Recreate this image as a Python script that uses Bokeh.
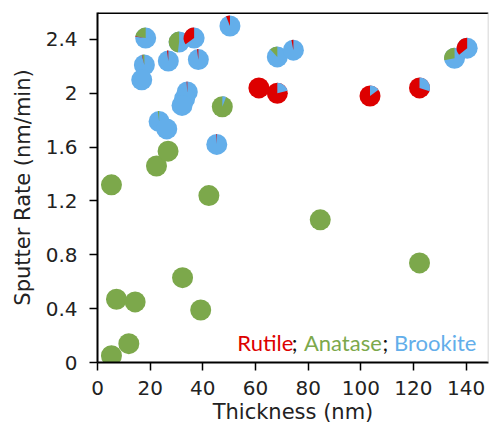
import numpy as np
from bokeh.plotting import figure
from bokeh.models import ColumnDataSource, Span, Label, FixedTicker, Range1d
from bokeh.embed import file_html
from bokeh.resources import INLINE

# ---- data ----
thickness = [5.3, 7.2, 11.9, 14.3, 5.3, 22.4, 26.8, 32.3, 39.2, 42.3, 84.6, 122.3,
             18.3, 31.0, 36.7, 50.3, 17.8, 16.8, 26.9, 38.3,
             34.1, 33.1, 32.1, 23.4, 26.3, 47.4, 45.3,
             61.3, 68.3, 68.3, 74.4, 103.5, 122.3, 135.6, 140.4]
rate = [0.05, 0.47, 0.14, 0.45, 1.32, 1.46, 1.57, 0.63, 0.39, 1.24, 1.06, 0.74,
        2.41, 2.38, 2.41, 2.50, 2.21, 2.10, 2.24, 2.25,
        2.01, 1.96, 1.91, 1.79, 1.735, 1.90, 1.62,
        2.04, 2.00, 2.27, 2.32, 1.98, 2.04, 2.26, 2.335]
rutile = [0, 0, 0, 0, 0, 0, 0, 0, 0, 0, 0, 0,
          0.01, 0, 0.35, 0.06, 0.01, 0, 0.02, 0.02,
          0.01, 0, 0, 0, 0, 0, 0.01,
          1.0, 0.79, 0, 0.03, 0.85, 0.70, 0, 0.36]
anatase = [1, 1, 1, 1, 1, 1, 1, 1, 1, 1, 1, 1,
           0.22, 0.48, 0, 0, 0.03, 0, 0, 0,
           0, 0, 0, 0.02, 0, 0.94, 0,
           0, 0, 0.12, 0, 0, 0, 0.28, 0]
brookite = [0, 0, 0, 0, 0, 0, 0, 0, 0, 0, 0, 0,
            0.77, 0.52, 0.65, 0.94, 0.96, 1.0, 0.98, 0.98,
            0.99, 1.0, 1.0, 0.98, 1.0, 0.06, 0.99,
            0, 0.21, 0.88, 0.97, 0.15, 0.30, 0.72, 0.64]

phases = ["Rutile", "Anatase", "Brookite"]
x_ticks = [0, 20, 40, 60, 80, 100, 120, 140]
y_ticks = [0, 0.4, 0.8, 1.2, 1.6, 2, 2.4]
y_tick_labels = ["0", "0.4", "0.8", "1.2", "1.6", "2", "2.4"]

RED = "#DD0000"
GREEN = "#7CA84B"
BLUE = "#63AEEA"
colors = {"Rutile": RED, "Anatase": GREEN, "Brookite": BLUE}

FONT = "DejaVu Sans"
PIE_D = 21

p = figure(width=490, height=427, output_backend="svg", toolbar_location=None,
           x_range=Range1d(0, 148.5), y_range=Range1d(0, 2.6),
           min_border_left=97, min_border_right=2, min_border_top=12, min_border_bottom=65)
p.outline_line_color = None
p.xgrid.visible = False
p.ygrid.visible = False
p.background_fill_color = "white"
p.border_fill_color = "white"

# ---- pies: base circle in dominant phase, wedges for the other phases ----
base_x, base_y, base_c = [], [], []
wx, wy, ws, we, wc = [], [], [], [], []
for i in range(len(thickness)):
    fr = {"Rutile": rutile[i], "Anatase": anatase[i], "Brookite": brookite[i]}
    dom = max(fr, key=fr.get)
    base_x.append(thickness[i]); base_y.append(rate[i]); base_c.append(colors[dom])
    # clockwise from 12 o'clock: Brookite, Rutile, Anatase
    cum = 0.0
    for ph in ["Brookite", "Rutile", "Anatase"]:
        f = fr[ph]
        if f > 0 and ph != dom:
            wx.append(thickness[i]); wy.append(rate[i])
            ws.append(90 - 360 * (cum + f)); we.append(90 - 360 * cum)
            wc.append(colors[ph])
        cum += f

p.scatter(x="x", y="y", size=PIE_D, color="c", line_color=None,
          source=ColumnDataSource(dict(x=base_x, y=base_y, c=base_c)))
p.wedge(x="x", y="y", radius=PIE_D / 2, radius_units="screen",
        start_angle="s", end_angle="e", start_angle_units="deg", end_angle_units="deg",
        color="c", line_color=None,
        source=ColumnDataSource(dict(x=wx, y=wy, s=ws, e=we, c=wc)))

# ---- axes ----
for ax in (p.xaxis[0], p.yaxis[0]):
    ax.axis_line_width = 2
    ax.axis_line_color = "black"
    ax.major_tick_line_color = "black"
    ax.major_tick_line_width = 1.5
    ax.major_tick_in = 0
    ax.major_tick_out = 8
    ax.minor_tick_line_color = None
    ax.major_label_text_font = FONT
    ax.major_label_text_font_size = "20px"
    ax.major_label_text_color = "#222222"
    ax.axis_label_text_font = FONT
    ax.axis_label_text_font_size = "21px"
    ax.axis_label_text_font_style = "normal"
    ax.axis_label_text_color = "#222222"

p.xaxis.ticker = FixedTicker(ticks=x_ticks)
p.yaxis.ticker = FixedTicker(ticks=y_ticks)
p.yaxis.major_label_overrides = {t: l for t, l in zip(y_ticks, y_tick_labels)}
p.xaxis.major_label_standoff = 10
p.yaxis.major_label_standoff = 12

p.xaxis.axis_label = "Thickness (nm)"
p.xaxis.axis_label_standoff = 2
p.yaxis.axis_label = "Sputter Rate (nm/min)"
p.yaxis.axis_label_standoff = 8

# frame: black top edge, light grey right edge
p.add_layout(Span(location=2.6, dimension="width", line_color="black", line_width=3))
p.add_layout(Span(location=148.5, dimension="height", line_color="#C8C8C8", line_width=1.5))

# ---- coloured legend text ----
LFONT = "Lato"
for txt, xx, col in [("Rutile", 53.1, RED), (";", 73.8, "#111111"),
                     ("Anatase", 78.4, GREEN), (";", 108.2, "#111111"),
                     ("Brookite", 112.6, BLUE)]:
    p.add_layout(Label(x=xx, y=0.147, text=txt, text_align="left", text_baseline="middle",
                       text_font=LFONT, text_font_size="22px", text_color=col))

open("out.html", "w").write(file_html(p, INLINE))
